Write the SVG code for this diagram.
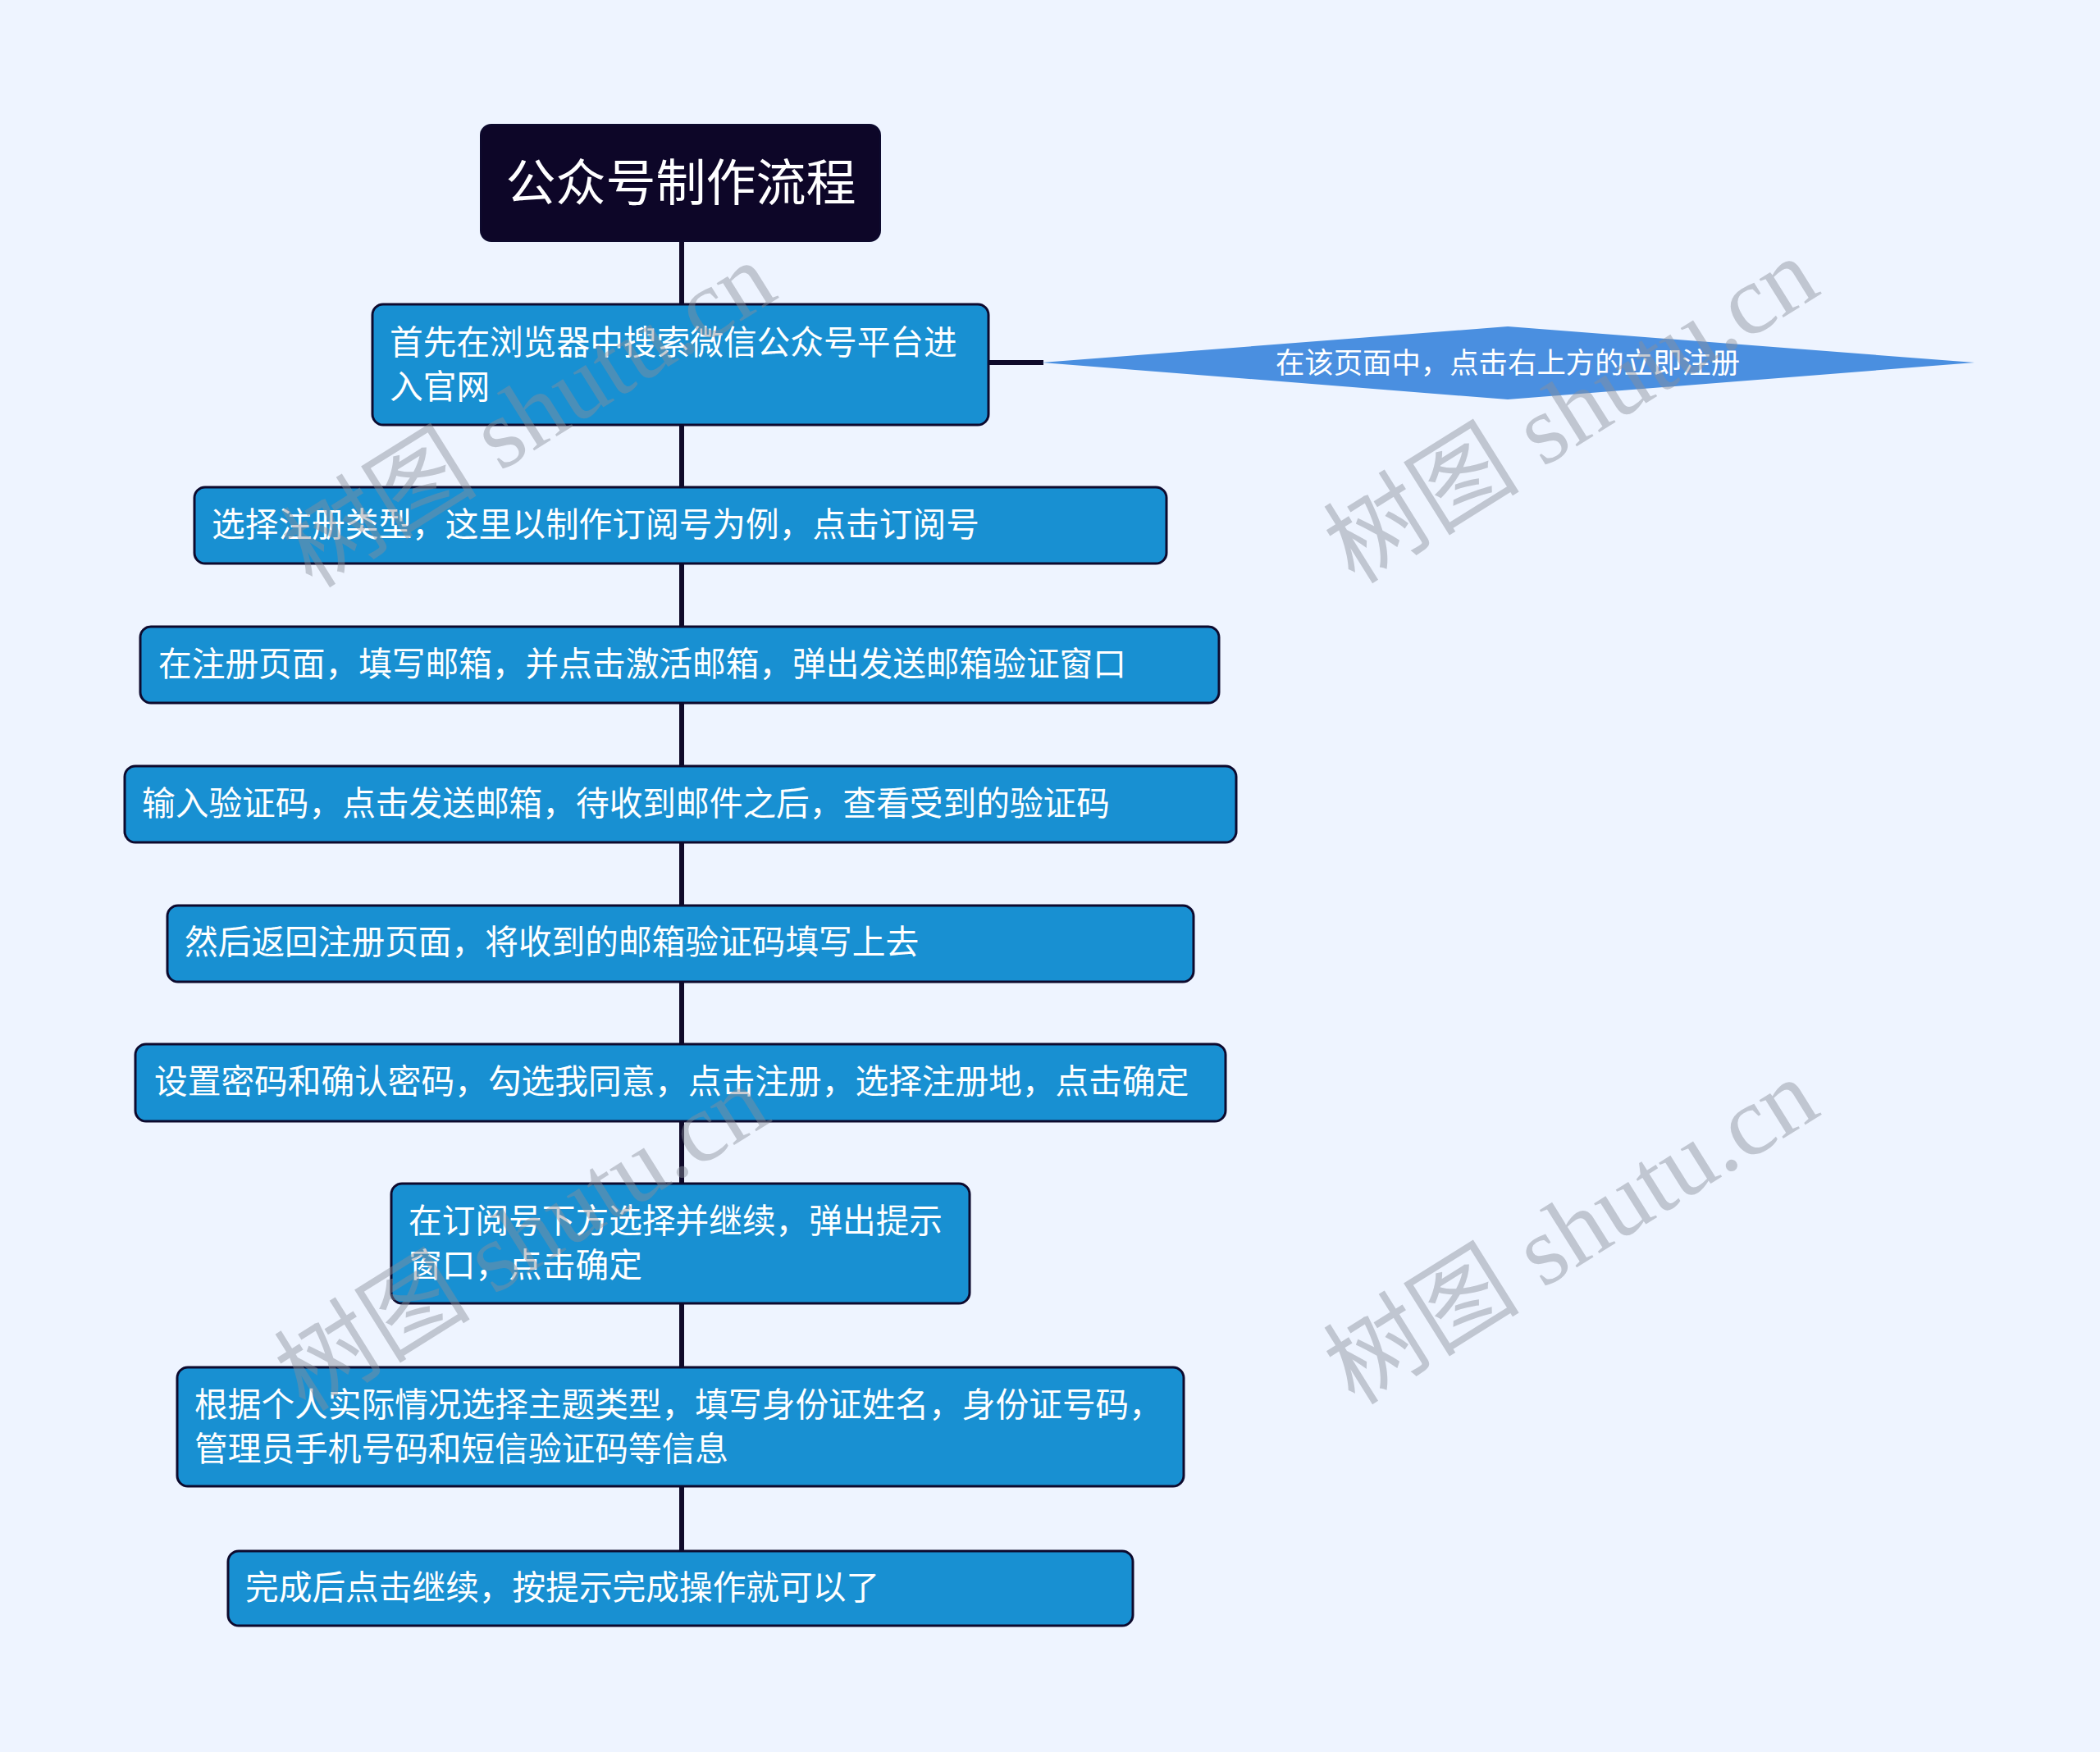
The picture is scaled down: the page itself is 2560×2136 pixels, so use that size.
<svg xmlns="http://www.w3.org/2000/svg" width="2560" height="2136" viewBox="0 0 2560 2136">
<style>
.bg{fill:#eef4ff}
.node{fill:#1890d2;stroke:#0d0a2e;stroke-width:3}
.root{fill:#0d0628;stroke:#0d0a2e;stroke-width:2}
.t{font-family:"Noto Sans CJK SC","Noto Sans",sans-serif;font-size:40.7px;fill:#ffffff}
.tr{font-family:"Noto Sans CJK SC","Noto Sans",sans-serif;font-size:61px;fill:#ffffff;text-anchor:middle}
.td{font-family:"Noto Sans CJK SC","Noto Sans",sans-serif;font-size:35.4px;fill:#ffffff;text-anchor:middle}
.line{stroke:#0f0a2a;stroke-width:6;fill:none}
.wm{font-family:"Liberation Serif","Noto Sans CJK SC",serif;font-size:120px;fill:#8a8f9a;opacity:0.45;text-anchor:middle}
</style>
<rect class="bg" x="0" y="0" width="2560" height="2136"/>
<g id="connectors">
<line class="line" x1="831" y1="294" x2="831" y2="1891"/>
<line class="line" x1="1205" y1="442" x2="1272" y2="442"/>
</g>
<g id="root">
<rect class="root" x="586" y="152" width="487" height="142" rx="13"/>
<text class="tr" x="830" y="245">公众号制作流程</text>
</g>
<g id="n1">
<rect class="node" x="454" y="371" width="751" height="147" rx="13"/>
<text class="t" x="475" y="432">首先在浏览器中搜索微信公众号平台进</text>
<text class="t" x="475" y="486">入官网</text>
</g>
<g id="d1">
<polygon points="1270,442 1838,398 2407,442 1838,487" fill="#4a8fe0"/>
<text class="td" x="1838" y="455">在该页面中，点击右上方的立即注册</text>
</g>
<g id="n2">
<rect class="node" x="237" y="594" width="1185" height="93" rx="13"/>
<text class="t" x="258" y="654">选择注册类型，这里以制作订阅号为例，点击订阅号</text>
</g>
<g id="n3">
<rect class="node" x="171" y="764" width="1315" height="93" rx="13"/>
<text class="t" x="193" y="824">在注册页面，填写邮箱，并点击激活邮箱，弹出发送邮箱验证窗口</text>
</g>
<g id="n4">
<rect class="node" x="152" y="934" width="1355" height="93" rx="13"/>
<text class="t" x="173" y="994">输入验证码，点击发送邮箱，待收到邮件之后，查看受到的验证码</text>
</g>
<g id="n5">
<rect class="node" x="204" y="1104" width="1251" height="93" rx="13"/>
<text class="t" x="225" y="1163">然后返回注册页面，将收到的邮箱验证码填写上去</text>
</g>
<g id="n6">
<rect class="node" x="165" y="1273" width="1329" height="94" rx="13"/>
<text class="t" x="188" y="1333">设置密码和确认密码，勾选我同意，点击注册，选择注册地，点击确定</text>
</g>
<g id="n7">
<rect class="node" x="477" y="1443" width="705" height="146" rx="13"/>
<text class="t" x="498" y="1503">在订阅号下方选择并继续，弹出提示</text>
<text class="t" x="498" y="1557">窗口，点击确定</text>
</g>
<g id="n8">
<rect class="node" x="216" y="1667" width="1227" height="145" rx="13"/>
<text class="t" x="237" y="1727">根据个人实际情况选择主题类型，填写身份证姓名，身份证号码，</text>
<text class="t" x="237" y="1781">管理员手机号码和短信验证码等信息</text>
</g>
<g id="n9">
<rect class="node" x="278" y="1891" width="1103" height="91" rx="13"/>
<text class="t" x="299" y="1950">完成后点击继续，按提示完成操作就可以了</text>
</g>
<g id="watermarks">
<text class="wm" transform="translate(666,540) rotate(-32)">树图 shutu.cn</text>
<text class="wm" transform="translate(1937,535) rotate(-32)">树图 shutu.cn</text>
<text class="wm" transform="translate(658,1544) rotate(-32)">树图 shutu.cn</text>
<text class="wm" transform="translate(1937,1536) rotate(-32)">树图 shutu.cn</text>
</g>
</svg>
